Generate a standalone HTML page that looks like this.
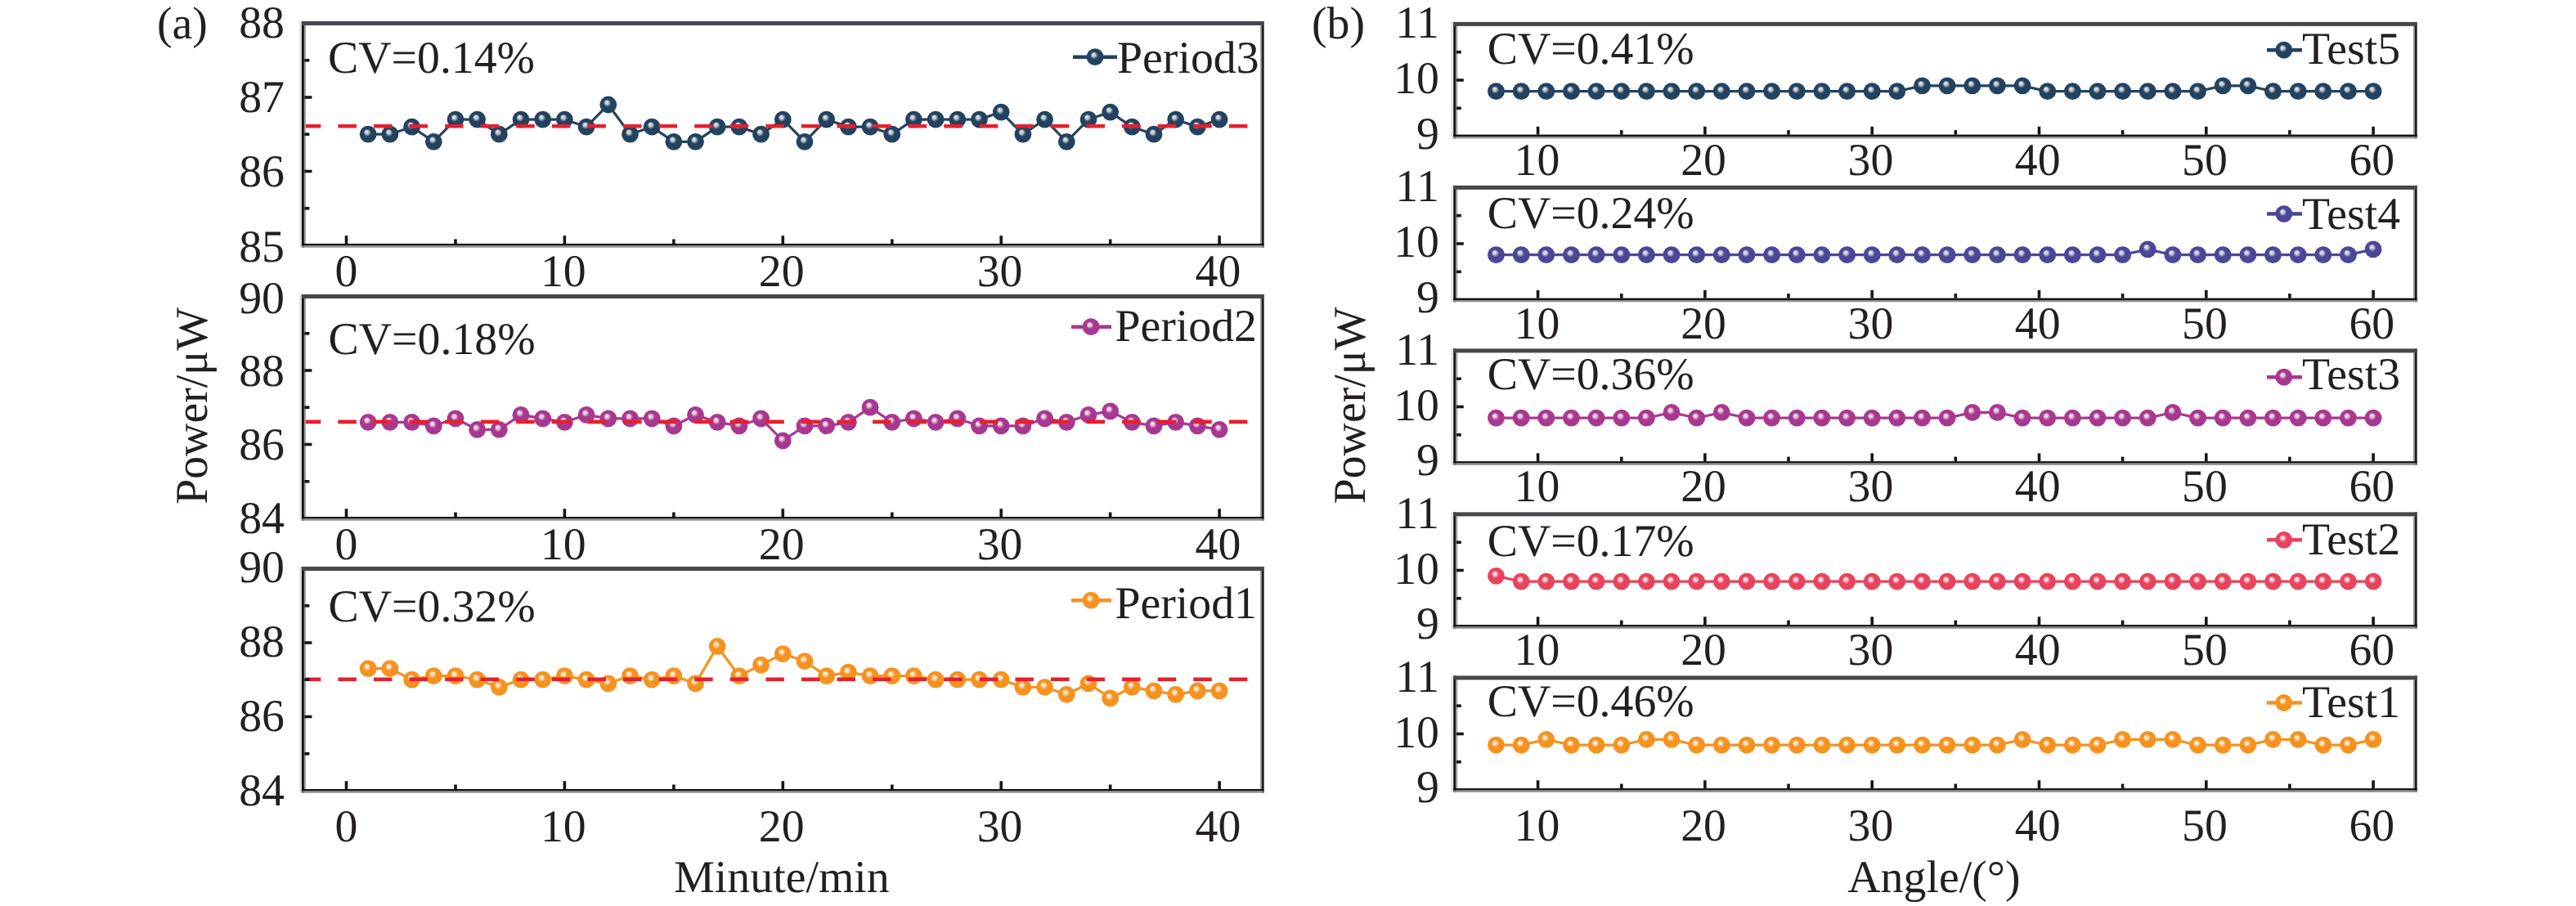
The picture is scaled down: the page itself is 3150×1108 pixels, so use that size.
<!DOCTYPE html>
<html><head><meta charset="utf-8"><style>
html,body{margin:0;padding:0;background:#fff;}
svg{display:block;}
text{font-family:"Liberation Serif", serif;fill:#231f20;text-rendering:geometricPrecision;}
</style></head><body>
<svg width="3150" height="1108" viewBox="0 0 3150 1108">
<defs><radialGradient id="g_navy" cx="0.5" cy="0.5" r="0.5" fx="0.4" fy="0.34"><stop offset="0" stop-color="#e9ecef"/><stop offset="0.2" stop-color="#c1cad2"/><stop offset="0.45" stop-color="#23425f"/><stop offset="1" stop-color="#23425f"/></radialGradient><radialGradient id="g_indigo" cx="0.5" cy="0.5" r="0.5" fx="0.4" fy="0.34"><stop offset="0" stop-color="#ececf4"/><stop offset="0.2" stop-color="#cccbe1"/><stop offset="0.45" stop-color="#4a4796"/><stop offset="1" stop-color="#4a4796"/></radialGradient><radialGradient id="g_magenta" cx="0.5" cy="0.5" r="0.5" fx="0.4" fy="0.34"><stop offset="0" stop-color="#f6ebf3"/><stop offset="0.2" stop-color="#e6c7df"/><stop offset="0.45" stop-color="#a8388f"/><stop offset="1" stop-color="#a8388f"/></radialGradient><radialGradient id="g_pink" cx="0.5" cy="0.5" r="0.5" fx="0.4" fy="0.34"><stop offset="0" stop-color="#fcecee"/><stop offset="0.2" stop-color="#f8cad1"/><stop offset="0.45" stop-color="#e8435d"/><stop offset="1" stop-color="#e8435d"/></radialGradient><radialGradient id="g_orange" cx="0.5" cy="0.5" r="0.5" fx="0.4" fy="0.34"><stop offset="0" stop-color="#fef4e8"/><stop offset="0.2" stop-color="#fce0c0"/><stop offset="0.45" stop-color="#f59220"/><stop offset="1" stop-color="#f59220"/></radialGradient></defs>
<rect width="3150" height="1108" fill="#fff"/>
<polyline points="450.2,164.2 476.9,164.2 503.6,155.2 530.3,173.3 557.0,146.1 583.6,146.1 610.3,164.2 637.0,146.1 663.7,146.1 690.4,146.1 717.1,155.2 743.8,128.0 770.5,164.2 797.2,155.2 823.9,173.3 850.5,173.3 877.2,155.2 903.9,155.2 930.6,164.2 957.3,146.1 984.0,173.3 1010.7,146.1 1037.4,155.2 1064.1,155.2 1090.8,164.2 1117.4,146.1 1144.1,146.1 1170.8,146.1 1197.5,146.1 1224.2,137.1 1250.9,164.2 1277.6,146.1 1304.3,173.3 1331.0,146.1 1357.7,137.1 1384.3,155.2 1411.0,164.2 1437.7,146.1 1464.4,155.2 1491.1,146.1" fill="none" stroke="#23425f" stroke-width="3.2"/>
<circle cx="450.2" cy="164.2" r="10.4" fill="url(#g_navy)"/>
<circle cx="476.9" cy="164.2" r="10.4" fill="url(#g_navy)"/>
<circle cx="503.6" cy="155.2" r="10.4" fill="url(#g_navy)"/>
<circle cx="530.3" cy="173.3" r="10.4" fill="url(#g_navy)"/>
<circle cx="557.0" cy="146.1" r="10.4" fill="url(#g_navy)"/>
<circle cx="583.6" cy="146.1" r="10.4" fill="url(#g_navy)"/>
<circle cx="610.3" cy="164.2" r="10.4" fill="url(#g_navy)"/>
<circle cx="637.0" cy="146.1" r="10.4" fill="url(#g_navy)"/>
<circle cx="663.7" cy="146.1" r="10.4" fill="url(#g_navy)"/>
<circle cx="690.4" cy="146.1" r="10.4" fill="url(#g_navy)"/>
<circle cx="717.1" cy="155.2" r="10.4" fill="url(#g_navy)"/>
<circle cx="743.8" cy="128.0" r="10.4" fill="url(#g_navy)"/>
<circle cx="770.5" cy="164.2" r="10.4" fill="url(#g_navy)"/>
<circle cx="797.2" cy="155.2" r="10.4" fill="url(#g_navy)"/>
<circle cx="823.9" cy="173.3" r="10.4" fill="url(#g_navy)"/>
<circle cx="850.5" cy="173.3" r="10.4" fill="url(#g_navy)"/>
<circle cx="877.2" cy="155.2" r="10.4" fill="url(#g_navy)"/>
<circle cx="903.9" cy="155.2" r="10.4" fill="url(#g_navy)"/>
<circle cx="930.6" cy="164.2" r="10.4" fill="url(#g_navy)"/>
<circle cx="957.3" cy="146.1" r="10.4" fill="url(#g_navy)"/>
<circle cx="984.0" cy="173.3" r="10.4" fill="url(#g_navy)"/>
<circle cx="1010.7" cy="146.1" r="10.4" fill="url(#g_navy)"/>
<circle cx="1037.4" cy="155.2" r="10.4" fill="url(#g_navy)"/>
<circle cx="1064.1" cy="155.2" r="10.4" fill="url(#g_navy)"/>
<circle cx="1090.8" cy="164.2" r="10.4" fill="url(#g_navy)"/>
<circle cx="1117.4" cy="146.1" r="10.4" fill="url(#g_navy)"/>
<circle cx="1144.1" cy="146.1" r="10.4" fill="url(#g_navy)"/>
<circle cx="1170.8" cy="146.1" r="10.4" fill="url(#g_navy)"/>
<circle cx="1197.5" cy="146.1" r="10.4" fill="url(#g_navy)"/>
<circle cx="1224.2" cy="137.1" r="10.4" fill="url(#g_navy)"/>
<circle cx="1250.9" cy="164.2" r="10.4" fill="url(#g_navy)"/>
<circle cx="1277.6" cy="146.1" r="10.4" fill="url(#g_navy)"/>
<circle cx="1304.3" cy="173.3" r="10.4" fill="url(#g_navy)"/>
<circle cx="1331.0" cy="146.1" r="10.4" fill="url(#g_navy)"/>
<circle cx="1357.7" cy="137.1" r="10.4" fill="url(#g_navy)"/>
<circle cx="1384.3" cy="155.2" r="10.4" fill="url(#g_navy)"/>
<circle cx="1411.0" cy="164.2" r="10.4" fill="url(#g_navy)"/>
<circle cx="1437.7" cy="146.1" r="10.4" fill="url(#g_navy)"/>
<circle cx="1464.4" cy="155.2" r="10.4" fill="url(#g_navy)"/>
<circle cx="1491.1" cy="146.1" r="10.4" fill="url(#g_navy)"/>
<line x1="371.4" y1="154.2" x2="1541.5" y2="154.2" stroke="#e5202e" stroke-width="4.6" stroke-dasharray="22.5 21.08" stroke-dashoffset="1.6"/>
<rect x="365.9" y="26.0" width="3.0" height="276.7" fill="#e4e4e4"/>
<rect x="368.9" y="26.0" width="3.0" height="276.7" fill="#121212"/>
<rect x="371.9" y="31.0" width="2.0" height="267.0" fill="#9c9c9c"/>
<rect x="1541.2" y="31.0" width="1.9" height="267.0" fill="#8c8c8c"/>
<rect x="1543.1" y="26.0" width="2.5" height="276.7" fill="#121212"/>
<rect x="368.9" y="298.0" width="1176.7" height="2.5" fill="#121212"/>
<rect x="368.9" y="300.5" width="1176.7" height="2.2" fill="#8c8c8c"/>
<rect x="368.9" y="26.0" width="1176.7" height="5.0" fill="#46464b"/>
<line x1="423.5" y1="298" x2="423.5" y2="288.2" stroke="#161616" stroke-width="3.6"/>
<text x="423.5" y="349.5" text-anchor="middle" font-size="55.8" >0</text>
<line x1="557.0" y1="298" x2="557.0" y2="292.5" stroke="#161616" stroke-width="3.6"/>
<line x1="690.4" y1="298" x2="690.4" y2="288.2" stroke="#161616" stroke-width="3.6"/>
<text x="688.8" y="349.5" text-anchor="middle" font-size="55.8" >10</text>
<line x1="823.9" y1="298" x2="823.9" y2="292.5" stroke="#161616" stroke-width="3.6"/>
<line x1="957.3" y1="298" x2="957.3" y2="288.2" stroke="#161616" stroke-width="3.6"/>
<text x="955.7" y="349.5" text-anchor="middle" font-size="55.8" >20</text>
<line x1="1090.8" y1="298" x2="1090.8" y2="292.5" stroke="#161616" stroke-width="3.6"/>
<line x1="1224.2" y1="298" x2="1224.2" y2="288.2" stroke="#161616" stroke-width="3.6"/>
<text x="1222.6" y="349.5" text-anchor="middle" font-size="55.8" >30</text>
<line x1="1357.7" y1="298" x2="1357.7" y2="292.5" stroke="#161616" stroke-width="3.6"/>
<line x1="1491.1" y1="298" x2="1491.1" y2="288.2" stroke="#161616" stroke-width="3.6"/>
<text x="1489.5" y="349.5" text-anchor="middle" font-size="55.8" >40</text>
<text x="348" y="319.8" text-anchor="end" font-size="55.8" >85</text>
<line x1="372.4" y1="209.5" x2="381.4" y2="209.5" stroke="#161616" stroke-width="3.6"/>
<text x="348" y="228.1" text-anchor="end" font-size="55.8" >86</text>
<line x1="372.4" y1="119.0" x2="381.4" y2="119.0" stroke="#161616" stroke-width="3.6"/>
<text x="348" y="137.1" text-anchor="end" font-size="55.8" >87</text>
<text x="348" y="46.0" text-anchor="end" font-size="55.8" >88</text>
<line x1="372.4" y1="254.8" x2="378.4" y2="254.8" stroke="#161616" stroke-width="3.6"/>
<line x1="372.4" y1="164.2" x2="378.4" y2="164.2" stroke="#161616" stroke-width="3.6"/>
<line x1="372.4" y1="73.8" x2="378.4" y2="73.8" stroke="#161616" stroke-width="3.6"/>
<text x="401" y="89" text-anchor="start" font-size="55.8" >CV=0.14%</text>
<line x1="1312" y1="69.7" x2="1366" y2="69.7" stroke="#23425f" stroke-width="4.5"/>
<circle cx="1339.1" cy="69.7" r="10.4" fill="url(#g_navy)"/>
<text x="1366" y="88.5" text-anchor="start" font-size="55.8" >Period3</text>
<polyline points="450.2,516.4 476.9,516.4 503.6,516.4 530.3,520.9 557.0,511.8 583.6,525.4 610.3,525.4 637.0,507.3 663.7,511.8 690.4,516.4 717.1,507.3 743.8,511.8 770.5,511.8 797.2,511.8 823.9,520.9 850.5,507.3 877.2,516.4 903.9,520.9 930.6,511.8 957.3,539.0 984.0,520.9 1010.7,520.9 1037.4,516.4 1064.1,498.2 1090.8,516.4 1117.4,511.8 1144.1,516.4 1170.8,511.8 1197.5,520.9 1224.2,520.9 1250.9,520.9 1277.6,511.8 1304.3,516.4 1331.0,507.3 1357.7,502.8 1384.3,516.4 1411.0,520.9 1437.7,516.4 1464.4,520.9 1491.1,525.4" fill="none" stroke="#a8388f" stroke-width="3.2"/>
<circle cx="450.2" cy="516.4" r="10.4" fill="url(#g_magenta)"/>
<circle cx="476.9" cy="516.4" r="10.4" fill="url(#g_magenta)"/>
<circle cx="503.6" cy="516.4" r="10.4" fill="url(#g_magenta)"/>
<circle cx="530.3" cy="520.9" r="10.4" fill="url(#g_magenta)"/>
<circle cx="557.0" cy="511.8" r="10.4" fill="url(#g_magenta)"/>
<circle cx="583.6" cy="525.4" r="10.4" fill="url(#g_magenta)"/>
<circle cx="610.3" cy="525.4" r="10.4" fill="url(#g_magenta)"/>
<circle cx="637.0" cy="507.3" r="10.4" fill="url(#g_magenta)"/>
<circle cx="663.7" cy="511.8" r="10.4" fill="url(#g_magenta)"/>
<circle cx="690.4" cy="516.4" r="10.4" fill="url(#g_magenta)"/>
<circle cx="717.1" cy="507.3" r="10.4" fill="url(#g_magenta)"/>
<circle cx="743.8" cy="511.8" r="10.4" fill="url(#g_magenta)"/>
<circle cx="770.5" cy="511.8" r="10.4" fill="url(#g_magenta)"/>
<circle cx="797.2" cy="511.8" r="10.4" fill="url(#g_magenta)"/>
<circle cx="823.9" cy="520.9" r="10.4" fill="url(#g_magenta)"/>
<circle cx="850.5" cy="507.3" r="10.4" fill="url(#g_magenta)"/>
<circle cx="877.2" cy="516.4" r="10.4" fill="url(#g_magenta)"/>
<circle cx="903.9" cy="520.9" r="10.4" fill="url(#g_magenta)"/>
<circle cx="930.6" cy="511.8" r="10.4" fill="url(#g_magenta)"/>
<circle cx="957.3" cy="539.0" r="10.4" fill="url(#g_magenta)"/>
<circle cx="984.0" cy="520.9" r="10.4" fill="url(#g_magenta)"/>
<circle cx="1010.7" cy="520.9" r="10.4" fill="url(#g_magenta)"/>
<circle cx="1037.4" cy="516.4" r="10.4" fill="url(#g_magenta)"/>
<circle cx="1064.1" cy="498.2" r="10.4" fill="url(#g_magenta)"/>
<circle cx="1090.8" cy="516.4" r="10.4" fill="url(#g_magenta)"/>
<circle cx="1117.4" cy="511.8" r="10.4" fill="url(#g_magenta)"/>
<circle cx="1144.1" cy="516.4" r="10.4" fill="url(#g_magenta)"/>
<circle cx="1170.8" cy="511.8" r="10.4" fill="url(#g_magenta)"/>
<circle cx="1197.5" cy="520.9" r="10.4" fill="url(#g_magenta)"/>
<circle cx="1224.2" cy="520.9" r="10.4" fill="url(#g_magenta)"/>
<circle cx="1250.9" cy="520.9" r="10.4" fill="url(#g_magenta)"/>
<circle cx="1277.6" cy="511.8" r="10.4" fill="url(#g_magenta)"/>
<circle cx="1304.3" cy="516.4" r="10.4" fill="url(#g_magenta)"/>
<circle cx="1331.0" cy="507.3" r="10.4" fill="url(#g_magenta)"/>
<circle cx="1357.7" cy="502.8" r="10.4" fill="url(#g_magenta)"/>
<circle cx="1384.3" cy="516.4" r="10.4" fill="url(#g_magenta)"/>
<circle cx="1411.0" cy="520.9" r="10.4" fill="url(#g_magenta)"/>
<circle cx="1437.7" cy="516.4" r="10.4" fill="url(#g_magenta)"/>
<circle cx="1464.4" cy="520.9" r="10.4" fill="url(#g_magenta)"/>
<circle cx="1491.1" cy="525.4" r="10.4" fill="url(#g_magenta)"/>
<line x1="371.4" y1="515.9" x2="1541.5" y2="515.9" stroke="#e5202e" stroke-width="4.6" stroke-dasharray="22.5 21.08" stroke-dashoffset="1.6"/>
<rect x="365.9" y="360.0" width="3.0" height="276.7" fill="#e4e4e4"/>
<rect x="368.9" y="360.0" width="3.0" height="276.7" fill="#121212"/>
<rect x="371.9" y="365.0" width="2.0" height="267.0" fill="#9c9c9c"/>
<rect x="1541.2" y="365.0" width="1.9" height="267.0" fill="#8c8c8c"/>
<rect x="1543.1" y="360.0" width="2.5" height="276.7" fill="#121212"/>
<rect x="368.9" y="632.0" width="1176.7" height="2.5" fill="#121212"/>
<rect x="368.9" y="634.5" width="1176.7" height="2.2" fill="#8c8c8c"/>
<rect x="368.9" y="360.0" width="1176.7" height="5.0" fill="#46464b"/>
<line x1="423.5" y1="632" x2="423.5" y2="622.2" stroke="#161616" stroke-width="3.6"/>
<text x="423.5" y="683.5" text-anchor="middle" font-size="55.8" >0</text>
<line x1="557.0" y1="632" x2="557.0" y2="626.5" stroke="#161616" stroke-width="3.6"/>
<line x1="690.4" y1="632" x2="690.4" y2="622.2" stroke="#161616" stroke-width="3.6"/>
<text x="688.8" y="683.5" text-anchor="middle" font-size="55.8" >10</text>
<line x1="823.9" y1="632" x2="823.9" y2="626.5" stroke="#161616" stroke-width="3.6"/>
<line x1="957.3" y1="632" x2="957.3" y2="622.2" stroke="#161616" stroke-width="3.6"/>
<text x="955.7" y="683.5" text-anchor="middle" font-size="55.8" >20</text>
<line x1="1090.8" y1="632" x2="1090.8" y2="626.5" stroke="#161616" stroke-width="3.6"/>
<line x1="1224.2" y1="632" x2="1224.2" y2="622.2" stroke="#161616" stroke-width="3.6"/>
<text x="1222.6" y="683.5" text-anchor="middle" font-size="55.8" >30</text>
<line x1="1357.7" y1="632" x2="1357.7" y2="626.5" stroke="#161616" stroke-width="3.6"/>
<line x1="1491.1" y1="632" x2="1491.1" y2="622.2" stroke="#161616" stroke-width="3.6"/>
<text x="1489.5" y="683.5" text-anchor="middle" font-size="55.8" >40</text>
<text x="348" y="651.8" text-anchor="end" font-size="55.8" >84</text>
<line x1="372.4" y1="543.5" x2="381.4" y2="543.5" stroke="#161616" stroke-width="3.6"/>
<text x="348" y="561.7" text-anchor="end" font-size="55.8" >86</text>
<line x1="372.4" y1="453.0" x2="381.4" y2="453.0" stroke="#161616" stroke-width="3.6"/>
<text x="348" y="471.6" text-anchor="end" font-size="55.8" >88</text>
<text x="348" y="383.1" text-anchor="end" font-size="55.8" >90</text>
<line x1="372.4" y1="588.8" x2="378.4" y2="588.8" stroke="#161616" stroke-width="3.6"/>
<line x1="372.4" y1="498.2" x2="378.4" y2="498.2" stroke="#161616" stroke-width="3.6"/>
<line x1="372.4" y1="407.8" x2="378.4" y2="407.8" stroke="#161616" stroke-width="3.6"/>
<text x="401.6" y="433" text-anchor="start" font-size="55.8" >CV=0.18%</text>
<line x1="1310" y1="399.7" x2="1359" y2="399.7" stroke="#a8388f" stroke-width="4.5"/>
<circle cx="1334.1" cy="399.7" r="10.4" fill="url(#g_magenta)"/>
<text x="1363.4" y="416.8" text-anchor="start" font-size="55.8" >Period2</text>
<polyline points="450.2,817.7 476.9,817.7 503.6,831.2 530.3,826.7 557.0,826.7 583.6,831.2 610.3,840.3 637.0,831.2 663.7,831.2 690.4,826.7 717.1,831.2 743.8,835.8 770.5,826.7 797.2,831.2 823.9,826.7 850.5,835.8 877.2,790.5 903.9,826.7 930.6,813.1 957.3,799.6 984.0,808.6 1010.7,826.7 1037.4,822.2 1064.1,826.7 1090.8,826.7 1117.4,826.7 1144.1,831.2 1170.8,831.2 1197.5,831.2 1224.2,831.2 1250.9,840.3 1277.6,840.3 1304.3,849.4 1331.0,835.8 1357.7,853.9 1384.3,840.3 1411.0,844.8 1437.7,849.4 1464.4,844.8 1491.1,844.8" fill="none" stroke="#f59220" stroke-width="3.2"/>
<circle cx="450.2" cy="817.7" r="10.4" fill="url(#g_orange)"/>
<circle cx="476.9" cy="817.7" r="10.4" fill="url(#g_orange)"/>
<circle cx="503.6" cy="831.2" r="10.4" fill="url(#g_orange)"/>
<circle cx="530.3" cy="826.7" r="10.4" fill="url(#g_orange)"/>
<circle cx="557.0" cy="826.7" r="10.4" fill="url(#g_orange)"/>
<circle cx="583.6" cy="831.2" r="10.4" fill="url(#g_orange)"/>
<circle cx="610.3" cy="840.3" r="10.4" fill="url(#g_orange)"/>
<circle cx="637.0" cy="831.2" r="10.4" fill="url(#g_orange)"/>
<circle cx="663.7" cy="831.2" r="10.4" fill="url(#g_orange)"/>
<circle cx="690.4" cy="826.7" r="10.4" fill="url(#g_orange)"/>
<circle cx="717.1" cy="831.2" r="10.4" fill="url(#g_orange)"/>
<circle cx="743.8" cy="835.8" r="10.4" fill="url(#g_orange)"/>
<circle cx="770.5" cy="826.7" r="10.4" fill="url(#g_orange)"/>
<circle cx="797.2" cy="831.2" r="10.4" fill="url(#g_orange)"/>
<circle cx="823.9" cy="826.7" r="10.4" fill="url(#g_orange)"/>
<circle cx="850.5" cy="835.8" r="10.4" fill="url(#g_orange)"/>
<circle cx="877.2" cy="790.5" r="10.4" fill="url(#g_orange)"/>
<circle cx="903.9" cy="826.7" r="10.4" fill="url(#g_orange)"/>
<circle cx="930.6" cy="813.1" r="10.4" fill="url(#g_orange)"/>
<circle cx="957.3" cy="799.6" r="10.4" fill="url(#g_orange)"/>
<circle cx="984.0" cy="808.6" r="10.4" fill="url(#g_orange)"/>
<circle cx="1010.7" cy="826.7" r="10.4" fill="url(#g_orange)"/>
<circle cx="1037.4" cy="822.2" r="10.4" fill="url(#g_orange)"/>
<circle cx="1064.1" cy="826.7" r="10.4" fill="url(#g_orange)"/>
<circle cx="1090.8" cy="826.7" r="10.4" fill="url(#g_orange)"/>
<circle cx="1117.4" cy="826.7" r="10.4" fill="url(#g_orange)"/>
<circle cx="1144.1" cy="831.2" r="10.4" fill="url(#g_orange)"/>
<circle cx="1170.8" cy="831.2" r="10.4" fill="url(#g_orange)"/>
<circle cx="1197.5" cy="831.2" r="10.4" fill="url(#g_orange)"/>
<circle cx="1224.2" cy="831.2" r="10.4" fill="url(#g_orange)"/>
<circle cx="1250.9" cy="840.3" r="10.4" fill="url(#g_orange)"/>
<circle cx="1277.6" cy="840.3" r="10.4" fill="url(#g_orange)"/>
<circle cx="1304.3" cy="849.4" r="10.4" fill="url(#g_orange)"/>
<circle cx="1331.0" cy="835.8" r="10.4" fill="url(#g_orange)"/>
<circle cx="1357.7" cy="853.9" r="10.4" fill="url(#g_orange)"/>
<circle cx="1384.3" cy="840.3" r="10.4" fill="url(#g_orange)"/>
<circle cx="1411.0" cy="844.8" r="10.4" fill="url(#g_orange)"/>
<circle cx="1437.7" cy="849.4" r="10.4" fill="url(#g_orange)"/>
<circle cx="1464.4" cy="844.8" r="10.4" fill="url(#g_orange)"/>
<circle cx="1491.1" cy="844.8" r="10.4" fill="url(#g_orange)"/>
<line x1="371.4" y1="830.8" x2="1541.5" y2="830.8" stroke="#e5202e" stroke-width="4.6" stroke-dasharray="22.5 21.08" stroke-dashoffset="1.6"/>
<rect x="365.9" y="693.0" width="3.0" height="276.7" fill="#e4e4e4"/>
<rect x="368.9" y="693.0" width="3.0" height="276.7" fill="#121212"/>
<rect x="371.9" y="698.0" width="2.0" height="267.0" fill="#9c9c9c"/>
<rect x="1541.2" y="698.0" width="1.9" height="267.0" fill="#8c8c8c"/>
<rect x="1543.1" y="693.0" width="2.5" height="276.7" fill="#121212"/>
<rect x="368.9" y="965.0" width="1176.7" height="2.5" fill="#121212"/>
<rect x="368.9" y="967.5" width="1176.7" height="2.2" fill="#8c8c8c"/>
<rect x="368.9" y="693.0" width="1176.7" height="5.0" fill="#46464b"/>
<line x1="423.5" y1="965" x2="423.5" y2="955.2" stroke="#161616" stroke-width="3.6"/>
<text x="423.5" y="1028.5" text-anchor="middle" font-size="55.8" >0</text>
<line x1="557.0" y1="965" x2="557.0" y2="959.5" stroke="#161616" stroke-width="3.6"/>
<line x1="690.4" y1="965" x2="690.4" y2="955.2" stroke="#161616" stroke-width="3.6"/>
<text x="688.8" y="1028.5" text-anchor="middle" font-size="55.8" >10</text>
<line x1="823.9" y1="965" x2="823.9" y2="959.5" stroke="#161616" stroke-width="3.6"/>
<line x1="957.3" y1="965" x2="957.3" y2="955.2" stroke="#161616" stroke-width="3.6"/>
<text x="955.7" y="1028.5" text-anchor="middle" font-size="55.8" >20</text>
<line x1="1090.8" y1="965" x2="1090.8" y2="959.5" stroke="#161616" stroke-width="3.6"/>
<line x1="1224.2" y1="965" x2="1224.2" y2="955.2" stroke="#161616" stroke-width="3.6"/>
<text x="1222.6" y="1028.5" text-anchor="middle" font-size="55.8" >30</text>
<line x1="1357.7" y1="965" x2="1357.7" y2="959.5" stroke="#161616" stroke-width="3.6"/>
<line x1="1491.1" y1="965" x2="1491.1" y2="955.2" stroke="#161616" stroke-width="3.6"/>
<text x="1489.5" y="1028.5" text-anchor="middle" font-size="55.8" >40</text>
<text x="348" y="984.8" text-anchor="end" font-size="55.8" >84</text>
<line x1="372.4" y1="876.5" x2="381.4" y2="876.5" stroke="#161616" stroke-width="3.6"/>
<text x="348" y="893.8" text-anchor="end" font-size="55.8" >86</text>
<line x1="372.4" y1="786.0" x2="381.4" y2="786.0" stroke="#161616" stroke-width="3.6"/>
<text x="348" y="802.9" text-anchor="end" font-size="55.8" >88</text>
<text x="348" y="712.0" text-anchor="end" font-size="55.8" >90</text>
<line x1="372.4" y1="921.8" x2="378.4" y2="921.8" stroke="#161616" stroke-width="3.6"/>
<line x1="372.4" y1="831.2" x2="378.4" y2="831.2" stroke="#161616" stroke-width="3.6"/>
<line x1="372.4" y1="740.8" x2="378.4" y2="740.8" stroke="#161616" stroke-width="3.6"/>
<text x="401.6" y="760" text-anchor="start" font-size="55.8" >CV=0.32%</text>
<line x1="1310" y1="734.2" x2="1359" y2="734.2" stroke="#f59220" stroke-width="4.5"/>
<circle cx="1334.1" cy="734.2" r="10.4" fill="url(#g_orange)"/>
<text x="1363.4" y="755.7" text-anchor="start" font-size="55.8" >Period1</text>
<text x="956" y="1091" text-anchor="middle" font-size="55.8" >Minute/min</text>
<text x="0" y="0" text-anchor="middle" font-size="55.8" transform="translate(252.5,496.5) rotate(-90)">Power/μW</text>
<text x="192" y="46.5" text-anchor="start" font-size="55.8" >(a)</text>
<polyline points="1829.5,111.7 1860.2,111.7 1890.8,111.7 1921.5,111.7 1952.1,111.7 1982.8,111.7 2013.4,111.7 2044.0,111.7 2074.7,111.7 2105.3,111.7 2136.0,111.7 2166.6,111.7 2197.3,111.7 2227.9,111.7 2258.6,111.7 2289.2,111.7 2319.8,111.7 2350.5,104.9 2381.1,104.9 2411.8,104.9 2442.4,104.9 2473.1,104.9 2503.7,111.7 2534.4,111.7 2565.0,111.7 2595.6,111.7 2626.3,111.7 2656.9,111.7 2687.6,111.7 2718.2,104.9 2748.9,104.9 2779.5,111.7 2810.2,111.7 2840.8,111.7 2871.5,111.7 2902.1,111.7" fill="none" stroke="#23425f" stroke-width="3.2"/>
<circle cx="1829.5" cy="111.7" r="10.4" fill="url(#g_navy)"/>
<circle cx="1860.2" cy="111.7" r="10.4" fill="url(#g_navy)"/>
<circle cx="1890.8" cy="111.7" r="10.4" fill="url(#g_navy)"/>
<circle cx="1921.5" cy="111.7" r="10.4" fill="url(#g_navy)"/>
<circle cx="1952.1" cy="111.7" r="10.4" fill="url(#g_navy)"/>
<circle cx="1982.8" cy="111.7" r="10.4" fill="url(#g_navy)"/>
<circle cx="2013.4" cy="111.7" r="10.4" fill="url(#g_navy)"/>
<circle cx="2044.0" cy="111.7" r="10.4" fill="url(#g_navy)"/>
<circle cx="2074.7" cy="111.7" r="10.4" fill="url(#g_navy)"/>
<circle cx="2105.3" cy="111.7" r="10.4" fill="url(#g_navy)"/>
<circle cx="2136.0" cy="111.7" r="10.4" fill="url(#g_navy)"/>
<circle cx="2166.6" cy="111.7" r="10.4" fill="url(#g_navy)"/>
<circle cx="2197.3" cy="111.7" r="10.4" fill="url(#g_navy)"/>
<circle cx="2227.9" cy="111.7" r="10.4" fill="url(#g_navy)"/>
<circle cx="2258.6" cy="111.7" r="10.4" fill="url(#g_navy)"/>
<circle cx="2289.2" cy="111.7" r="10.4" fill="url(#g_navy)"/>
<circle cx="2319.8" cy="111.7" r="10.4" fill="url(#g_navy)"/>
<circle cx="2350.5" cy="104.9" r="10.4" fill="url(#g_navy)"/>
<circle cx="2381.1" cy="104.9" r="10.4" fill="url(#g_navy)"/>
<circle cx="2411.8" cy="104.9" r="10.4" fill="url(#g_navy)"/>
<circle cx="2442.4" cy="104.9" r="10.4" fill="url(#g_navy)"/>
<circle cx="2473.1" cy="104.9" r="10.4" fill="url(#g_navy)"/>
<circle cx="2503.7" cy="111.7" r="10.4" fill="url(#g_navy)"/>
<circle cx="2534.4" cy="111.7" r="10.4" fill="url(#g_navy)"/>
<circle cx="2565.0" cy="111.7" r="10.4" fill="url(#g_navy)"/>
<circle cx="2595.6" cy="111.7" r="10.4" fill="url(#g_navy)"/>
<circle cx="2626.3" cy="111.7" r="10.4" fill="url(#g_navy)"/>
<circle cx="2656.9" cy="111.7" r="10.4" fill="url(#g_navy)"/>
<circle cx="2687.6" cy="111.7" r="10.4" fill="url(#g_navy)"/>
<circle cx="2718.2" cy="104.9" r="10.4" fill="url(#g_navy)"/>
<circle cx="2748.9" cy="104.9" r="10.4" fill="url(#g_navy)"/>
<circle cx="2779.5" cy="111.7" r="10.4" fill="url(#g_navy)"/>
<circle cx="2810.2" cy="111.7" r="10.4" fill="url(#g_navy)"/>
<circle cx="2840.8" cy="111.7" r="10.4" fill="url(#g_navy)"/>
<circle cx="2871.5" cy="111.7" r="10.4" fill="url(#g_navy)"/>
<circle cx="2902.1" cy="111.7" r="10.4" fill="url(#g_navy)"/>
<rect x="1774.3" y="26.9" width="3.0" height="142.4" fill="#e4e4e4"/>
<rect x="1777.3" y="26.9" width="3.0" height="142.4" fill="#121212"/>
<rect x="1780.3" y="31.9" width="2.0" height="132.7" fill="#9c9c9c"/>
<rect x="2951.2" y="31.9" width="1.9" height="132.7" fill="#8c8c8c"/>
<rect x="2953.1" y="26.9" width="2.5" height="142.4" fill="#121212"/>
<rect x="1777.3" y="164.6" width="1178.3" height="2.5" fill="#121212"/>
<rect x="1777.3" y="167.1" width="1178.3" height="2.2" fill="#8c8c8c"/>
<rect x="1777.3" y="26.9" width="1178.3" height="5.0" fill="#46464b"/>
<line x1="1880.6" y1="164.6" x2="1880.6" y2="154.8" stroke="#161616" stroke-width="3.6"/>
<text x="1879.4" y="213.6" text-anchor="middle" font-size="55.8" >10</text>
<line x1="1982.8" y1="164.6" x2="1982.8" y2="159.1" stroke="#161616" stroke-width="3.6"/>
<line x1="2084.9" y1="164.6" x2="2084.9" y2="154.8" stroke="#161616" stroke-width="3.6"/>
<text x="2083.1" y="213.6" text-anchor="middle" font-size="55.8" >20</text>
<line x1="2187.0" y1="164.6" x2="2187.0" y2="159.1" stroke="#161616" stroke-width="3.6"/>
<line x1="2289.2" y1="164.6" x2="2289.2" y2="154.8" stroke="#161616" stroke-width="3.6"/>
<text x="2287.4" y="213.6" text-anchor="middle" font-size="55.8" >30</text>
<line x1="2391.3" y1="164.6" x2="2391.3" y2="159.1" stroke="#161616" stroke-width="3.6"/>
<line x1="2493.5" y1="164.6" x2="2493.5" y2="154.8" stroke="#161616" stroke-width="3.6"/>
<text x="2491.7" y="213.6" text-anchor="middle" font-size="55.8" >40</text>
<line x1="2595.6" y1="164.6" x2="2595.6" y2="159.1" stroke="#161616" stroke-width="3.6"/>
<line x1="2697.8" y1="164.6" x2="2697.8" y2="154.8" stroke="#161616" stroke-width="3.6"/>
<text x="2696.0" y="213.6" text-anchor="middle" font-size="55.8" >50</text>
<line x1="2799.9" y1="164.6" x2="2799.9" y2="159.1" stroke="#161616" stroke-width="3.6"/>
<line x1="2902.1" y1="164.6" x2="2902.1" y2="154.8" stroke="#161616" stroke-width="3.6"/>
<text x="2900.3" y="213.6" text-anchor="middle" font-size="55.8" >60</text>
<text x="1760" y="46.2" text-anchor="end" font-size="55.8" >11</text>
<line x1="1780.8" y1="98.0" x2="1789.8" y2="98.0" stroke="#161616" stroke-width="3.6"/>
<text x="1760" y="114.3" text-anchor="end" font-size="55.8" >10</text>
<text x="1760" y="181.9" text-anchor="end" font-size="55.8" >9</text>
<line x1="1780.8" y1="132.3" x2="1786.8" y2="132.3" stroke="#161616" stroke-width="3.6"/>
<line x1="1780.8" y1="63.7" x2="1786.8" y2="63.7" stroke="#161616" stroke-width="3.6"/>
<text x="1818.7" y="77.5" text-anchor="start" font-size="55.8" >CV=0.41%</text>
<line x1="2772" y1="61.2" x2="2815" y2="61.2" stroke="#23425f" stroke-width="4.5"/>
<circle cx="2792.8" cy="61.2" r="10.4" fill="url(#g_navy)"/>
<text x="2815" y="77.8" text-anchor="start" font-size="55.8" >Test5</text>
<polyline points="1829.5,311.7 1860.2,311.7 1890.8,311.7 1921.5,311.7 1952.1,311.7 1982.8,311.7 2013.4,311.7 2044.0,311.7 2074.7,311.7 2105.3,311.7 2136.0,311.7 2166.6,311.7 2197.3,311.7 2227.9,311.7 2258.6,311.7 2289.2,311.7 2319.8,311.7 2350.5,311.7 2381.1,311.7 2411.8,311.7 2442.4,311.7 2473.1,311.7 2503.7,311.7 2534.4,311.7 2565.0,311.7 2595.6,311.7 2626.3,304.9 2656.9,311.7 2687.6,311.7 2718.2,311.7 2748.9,311.7 2779.5,311.7 2810.2,311.7 2840.8,311.7 2871.5,311.7 2902.1,304.9" fill="none" stroke="#4a4796" stroke-width="3.2"/>
<circle cx="1829.5" cy="311.7" r="10.4" fill="url(#g_indigo)"/>
<circle cx="1860.2" cy="311.7" r="10.4" fill="url(#g_indigo)"/>
<circle cx="1890.8" cy="311.7" r="10.4" fill="url(#g_indigo)"/>
<circle cx="1921.5" cy="311.7" r="10.4" fill="url(#g_indigo)"/>
<circle cx="1952.1" cy="311.7" r="10.4" fill="url(#g_indigo)"/>
<circle cx="1982.8" cy="311.7" r="10.4" fill="url(#g_indigo)"/>
<circle cx="2013.4" cy="311.7" r="10.4" fill="url(#g_indigo)"/>
<circle cx="2044.0" cy="311.7" r="10.4" fill="url(#g_indigo)"/>
<circle cx="2074.7" cy="311.7" r="10.4" fill="url(#g_indigo)"/>
<circle cx="2105.3" cy="311.7" r="10.4" fill="url(#g_indigo)"/>
<circle cx="2136.0" cy="311.7" r="10.4" fill="url(#g_indigo)"/>
<circle cx="2166.6" cy="311.7" r="10.4" fill="url(#g_indigo)"/>
<circle cx="2197.3" cy="311.7" r="10.4" fill="url(#g_indigo)"/>
<circle cx="2227.9" cy="311.7" r="10.4" fill="url(#g_indigo)"/>
<circle cx="2258.6" cy="311.7" r="10.4" fill="url(#g_indigo)"/>
<circle cx="2289.2" cy="311.7" r="10.4" fill="url(#g_indigo)"/>
<circle cx="2319.8" cy="311.7" r="10.4" fill="url(#g_indigo)"/>
<circle cx="2350.5" cy="311.7" r="10.4" fill="url(#g_indigo)"/>
<circle cx="2381.1" cy="311.7" r="10.4" fill="url(#g_indigo)"/>
<circle cx="2411.8" cy="311.7" r="10.4" fill="url(#g_indigo)"/>
<circle cx="2442.4" cy="311.7" r="10.4" fill="url(#g_indigo)"/>
<circle cx="2473.1" cy="311.7" r="10.4" fill="url(#g_indigo)"/>
<circle cx="2503.7" cy="311.7" r="10.4" fill="url(#g_indigo)"/>
<circle cx="2534.4" cy="311.7" r="10.4" fill="url(#g_indigo)"/>
<circle cx="2565.0" cy="311.7" r="10.4" fill="url(#g_indigo)"/>
<circle cx="2595.6" cy="311.7" r="10.4" fill="url(#g_indigo)"/>
<circle cx="2626.3" cy="304.9" r="10.4" fill="url(#g_indigo)"/>
<circle cx="2656.9" cy="311.7" r="10.4" fill="url(#g_indigo)"/>
<circle cx="2687.6" cy="311.7" r="10.4" fill="url(#g_indigo)"/>
<circle cx="2718.2" cy="311.7" r="10.4" fill="url(#g_indigo)"/>
<circle cx="2748.9" cy="311.7" r="10.4" fill="url(#g_indigo)"/>
<circle cx="2779.5" cy="311.7" r="10.4" fill="url(#g_indigo)"/>
<circle cx="2810.2" cy="311.7" r="10.4" fill="url(#g_indigo)"/>
<circle cx="2840.8" cy="311.7" r="10.4" fill="url(#g_indigo)"/>
<circle cx="2871.5" cy="311.7" r="10.4" fill="url(#g_indigo)"/>
<circle cx="2902.1" cy="304.9" r="10.4" fill="url(#g_indigo)"/>
<rect x="1774.3" y="226.9" width="3.0" height="142.4" fill="#e4e4e4"/>
<rect x="1777.3" y="226.9" width="3.0" height="142.4" fill="#121212"/>
<rect x="1780.3" y="231.9" width="2.0" height="132.7" fill="#9c9c9c"/>
<rect x="2951.2" y="231.9" width="1.9" height="132.7" fill="#8c8c8c"/>
<rect x="2953.1" y="226.9" width="2.5" height="142.4" fill="#121212"/>
<rect x="1777.3" y="364.6" width="1178.3" height="2.5" fill="#121212"/>
<rect x="1777.3" y="367.1" width="1178.3" height="2.2" fill="#8c8c8c"/>
<rect x="1777.3" y="226.9" width="1178.3" height="5.0" fill="#46464b"/>
<line x1="1880.6" y1="364.6" x2="1880.6" y2="354.8" stroke="#161616" stroke-width="3.6"/>
<text x="1879.4" y="413.6" text-anchor="middle" font-size="55.8" >10</text>
<line x1="1982.8" y1="364.6" x2="1982.8" y2="359.1" stroke="#161616" stroke-width="3.6"/>
<line x1="2084.9" y1="364.6" x2="2084.9" y2="354.8" stroke="#161616" stroke-width="3.6"/>
<text x="2083.1" y="413.6" text-anchor="middle" font-size="55.8" >20</text>
<line x1="2187.0" y1="364.6" x2="2187.0" y2="359.1" stroke="#161616" stroke-width="3.6"/>
<line x1="2289.2" y1="364.6" x2="2289.2" y2="354.8" stroke="#161616" stroke-width="3.6"/>
<text x="2287.4" y="413.6" text-anchor="middle" font-size="55.8" >30</text>
<line x1="2391.3" y1="364.6" x2="2391.3" y2="359.1" stroke="#161616" stroke-width="3.6"/>
<line x1="2493.5" y1="364.6" x2="2493.5" y2="354.8" stroke="#161616" stroke-width="3.6"/>
<text x="2491.7" y="413.6" text-anchor="middle" font-size="55.8" >40</text>
<line x1="2595.6" y1="364.6" x2="2595.6" y2="359.1" stroke="#161616" stroke-width="3.6"/>
<line x1="2697.8" y1="364.6" x2="2697.8" y2="354.8" stroke="#161616" stroke-width="3.6"/>
<text x="2696.0" y="413.6" text-anchor="middle" font-size="55.8" >50</text>
<line x1="2799.9" y1="364.6" x2="2799.9" y2="359.1" stroke="#161616" stroke-width="3.6"/>
<line x1="2902.1" y1="364.6" x2="2902.1" y2="354.8" stroke="#161616" stroke-width="3.6"/>
<text x="2900.3" y="413.6" text-anchor="middle" font-size="55.8" >60</text>
<text x="1760" y="246.2" text-anchor="end" font-size="55.8" >11</text>
<line x1="1780.8" y1="298.0" x2="1789.8" y2="298.0" stroke="#161616" stroke-width="3.6"/>
<text x="1760" y="314.3" text-anchor="end" font-size="55.8" >10</text>
<text x="1760" y="381.9" text-anchor="end" font-size="55.8" >9</text>
<line x1="1780.8" y1="332.3" x2="1786.8" y2="332.3" stroke="#161616" stroke-width="3.6"/>
<line x1="1780.8" y1="263.7" x2="1786.8" y2="263.7" stroke="#161616" stroke-width="3.6"/>
<text x="1818.7" y="279.2" text-anchor="start" font-size="55.8" >CV=0.24%</text>
<line x1="2772" y1="261.6" x2="2815" y2="261.6" stroke="#4a4796" stroke-width="4.5"/>
<circle cx="2792.8" cy="261.6" r="10.4" fill="url(#g_indigo)"/>
<text x="2815" y="280.0" text-anchor="start" font-size="55.8" >Test4</text>
<polyline points="1829.5,511.2 1860.2,511.2 1890.8,511.2 1921.5,511.2 1952.1,511.2 1982.8,511.2 2013.4,511.2 2044.0,504.4 2074.7,511.2 2105.3,504.4 2136.0,511.2 2166.6,511.2 2197.3,511.2 2227.9,511.2 2258.6,511.2 2289.2,511.2 2319.8,511.2 2350.5,511.2 2381.1,511.2 2411.8,504.4 2442.4,504.4 2473.1,511.2 2503.7,511.2 2534.4,511.2 2565.0,511.2 2595.6,511.2 2626.3,511.2 2656.9,504.4 2687.6,511.2 2718.2,511.2 2748.9,511.2 2779.5,511.2 2810.2,511.2 2840.8,511.2 2871.5,511.2 2902.1,511.2" fill="none" stroke="#a8388f" stroke-width="3.2"/>
<circle cx="1829.5" cy="511.2" r="10.4" fill="url(#g_magenta)"/>
<circle cx="1860.2" cy="511.2" r="10.4" fill="url(#g_magenta)"/>
<circle cx="1890.8" cy="511.2" r="10.4" fill="url(#g_magenta)"/>
<circle cx="1921.5" cy="511.2" r="10.4" fill="url(#g_magenta)"/>
<circle cx="1952.1" cy="511.2" r="10.4" fill="url(#g_magenta)"/>
<circle cx="1982.8" cy="511.2" r="10.4" fill="url(#g_magenta)"/>
<circle cx="2013.4" cy="511.2" r="10.4" fill="url(#g_magenta)"/>
<circle cx="2044.0" cy="504.4" r="10.4" fill="url(#g_magenta)"/>
<circle cx="2074.7" cy="511.2" r="10.4" fill="url(#g_magenta)"/>
<circle cx="2105.3" cy="504.4" r="10.4" fill="url(#g_magenta)"/>
<circle cx="2136.0" cy="511.2" r="10.4" fill="url(#g_magenta)"/>
<circle cx="2166.6" cy="511.2" r="10.4" fill="url(#g_magenta)"/>
<circle cx="2197.3" cy="511.2" r="10.4" fill="url(#g_magenta)"/>
<circle cx="2227.9" cy="511.2" r="10.4" fill="url(#g_magenta)"/>
<circle cx="2258.6" cy="511.2" r="10.4" fill="url(#g_magenta)"/>
<circle cx="2289.2" cy="511.2" r="10.4" fill="url(#g_magenta)"/>
<circle cx="2319.8" cy="511.2" r="10.4" fill="url(#g_magenta)"/>
<circle cx="2350.5" cy="511.2" r="10.4" fill="url(#g_magenta)"/>
<circle cx="2381.1" cy="511.2" r="10.4" fill="url(#g_magenta)"/>
<circle cx="2411.8" cy="504.4" r="10.4" fill="url(#g_magenta)"/>
<circle cx="2442.4" cy="504.4" r="10.4" fill="url(#g_magenta)"/>
<circle cx="2473.1" cy="511.2" r="10.4" fill="url(#g_magenta)"/>
<circle cx="2503.7" cy="511.2" r="10.4" fill="url(#g_magenta)"/>
<circle cx="2534.4" cy="511.2" r="10.4" fill="url(#g_magenta)"/>
<circle cx="2565.0" cy="511.2" r="10.4" fill="url(#g_magenta)"/>
<circle cx="2595.6" cy="511.2" r="10.4" fill="url(#g_magenta)"/>
<circle cx="2626.3" cy="511.2" r="10.4" fill="url(#g_magenta)"/>
<circle cx="2656.9" cy="504.4" r="10.4" fill="url(#g_magenta)"/>
<circle cx="2687.6" cy="511.2" r="10.4" fill="url(#g_magenta)"/>
<circle cx="2718.2" cy="511.2" r="10.4" fill="url(#g_magenta)"/>
<circle cx="2748.9" cy="511.2" r="10.4" fill="url(#g_magenta)"/>
<circle cx="2779.5" cy="511.2" r="10.4" fill="url(#g_magenta)"/>
<circle cx="2810.2" cy="511.2" r="10.4" fill="url(#g_magenta)"/>
<circle cx="2840.8" cy="511.2" r="10.4" fill="url(#g_magenta)"/>
<circle cx="2871.5" cy="511.2" r="10.4" fill="url(#g_magenta)"/>
<circle cx="2902.1" cy="511.2" r="10.4" fill="url(#g_magenta)"/>
<rect x="1774.3" y="426.4" width="3.0" height="142.4" fill="#e4e4e4"/>
<rect x="1777.3" y="426.4" width="3.0" height="142.4" fill="#121212"/>
<rect x="1780.3" y="431.4" width="2.0" height="132.7" fill="#9c9c9c"/>
<rect x="2951.2" y="431.4" width="1.9" height="132.7" fill="#8c8c8c"/>
<rect x="2953.1" y="426.4" width="2.5" height="142.4" fill="#121212"/>
<rect x="1777.3" y="564.1" width="1178.3" height="2.5" fill="#121212"/>
<rect x="1777.3" y="566.6" width="1178.3" height="2.2" fill="#8c8c8c"/>
<rect x="1777.3" y="426.4" width="1178.3" height="5.0" fill="#46464b"/>
<line x1="1880.6" y1="564.1" x2="1880.6" y2="554.3" stroke="#161616" stroke-width="3.6"/>
<text x="1879.4" y="613.1" text-anchor="middle" font-size="55.8" >10</text>
<line x1="1982.8" y1="564.1" x2="1982.8" y2="558.6" stroke="#161616" stroke-width="3.6"/>
<line x1="2084.9" y1="564.1" x2="2084.9" y2="554.3" stroke="#161616" stroke-width="3.6"/>
<text x="2083.1" y="613.1" text-anchor="middle" font-size="55.8" >20</text>
<line x1="2187.0" y1="564.1" x2="2187.0" y2="558.6" stroke="#161616" stroke-width="3.6"/>
<line x1="2289.2" y1="564.1" x2="2289.2" y2="554.3" stroke="#161616" stroke-width="3.6"/>
<text x="2287.4" y="613.1" text-anchor="middle" font-size="55.8" >30</text>
<line x1="2391.3" y1="564.1" x2="2391.3" y2="558.6" stroke="#161616" stroke-width="3.6"/>
<line x1="2493.5" y1="564.1" x2="2493.5" y2="554.3" stroke="#161616" stroke-width="3.6"/>
<text x="2491.7" y="613.1" text-anchor="middle" font-size="55.8" >40</text>
<line x1="2595.6" y1="564.1" x2="2595.6" y2="558.6" stroke="#161616" stroke-width="3.6"/>
<line x1="2697.8" y1="564.1" x2="2697.8" y2="554.3" stroke="#161616" stroke-width="3.6"/>
<text x="2696.0" y="613.1" text-anchor="middle" font-size="55.8" >50</text>
<line x1="2799.9" y1="564.1" x2="2799.9" y2="558.6" stroke="#161616" stroke-width="3.6"/>
<line x1="2902.1" y1="564.1" x2="2902.1" y2="554.3" stroke="#161616" stroke-width="3.6"/>
<text x="2900.3" y="613.1" text-anchor="middle" font-size="55.8" >60</text>
<text x="1760" y="445.7" text-anchor="end" font-size="55.8" >11</text>
<line x1="1780.8" y1="497.5" x2="1789.8" y2="497.5" stroke="#161616" stroke-width="3.6"/>
<text x="1760" y="513.8" text-anchor="end" font-size="55.8" >10</text>
<text x="1760" y="581.4" text-anchor="end" font-size="55.8" >9</text>
<line x1="1780.8" y1="531.8" x2="1786.8" y2="531.8" stroke="#161616" stroke-width="3.6"/>
<line x1="1780.8" y1="463.2" x2="1786.8" y2="463.2" stroke="#161616" stroke-width="3.6"/>
<text x="1818.7" y="475.7" text-anchor="start" font-size="55.8" >CV=0.36%</text>
<line x1="2772" y1="461.2" x2="2815" y2="461.2" stroke="#a8388f" stroke-width="4.5"/>
<circle cx="2792.8" cy="461.2" r="10.4" fill="url(#g_magenta)"/>
<text x="2815" y="476.1" text-anchor="start" font-size="55.8" >Test3</text>
<polyline points="1829.5,704.4 1860.2,711.2 1890.8,711.2 1921.5,711.2 1952.1,711.2 1982.8,711.2 2013.4,711.2 2044.0,711.2 2074.7,711.2 2105.3,711.2 2136.0,711.2 2166.6,711.2 2197.3,711.2 2227.9,711.2 2258.6,711.2 2289.2,711.2 2319.8,711.2 2350.5,711.2 2381.1,711.2 2411.8,711.2 2442.4,711.2 2473.1,711.2 2503.7,711.2 2534.4,711.2 2565.0,711.2 2595.6,711.2 2626.3,711.2 2656.9,711.2 2687.6,711.2 2718.2,711.2 2748.9,711.2 2779.5,711.2 2810.2,711.2 2840.8,711.2 2871.5,711.2 2902.1,711.2" fill="none" stroke="#e8435d" stroke-width="3.2"/>
<circle cx="1829.5" cy="704.4" r="10.4" fill="url(#g_pink)"/>
<circle cx="1860.2" cy="711.2" r="10.4" fill="url(#g_pink)"/>
<circle cx="1890.8" cy="711.2" r="10.4" fill="url(#g_pink)"/>
<circle cx="1921.5" cy="711.2" r="10.4" fill="url(#g_pink)"/>
<circle cx="1952.1" cy="711.2" r="10.4" fill="url(#g_pink)"/>
<circle cx="1982.8" cy="711.2" r="10.4" fill="url(#g_pink)"/>
<circle cx="2013.4" cy="711.2" r="10.4" fill="url(#g_pink)"/>
<circle cx="2044.0" cy="711.2" r="10.4" fill="url(#g_pink)"/>
<circle cx="2074.7" cy="711.2" r="10.4" fill="url(#g_pink)"/>
<circle cx="2105.3" cy="711.2" r="10.4" fill="url(#g_pink)"/>
<circle cx="2136.0" cy="711.2" r="10.4" fill="url(#g_pink)"/>
<circle cx="2166.6" cy="711.2" r="10.4" fill="url(#g_pink)"/>
<circle cx="2197.3" cy="711.2" r="10.4" fill="url(#g_pink)"/>
<circle cx="2227.9" cy="711.2" r="10.4" fill="url(#g_pink)"/>
<circle cx="2258.6" cy="711.2" r="10.4" fill="url(#g_pink)"/>
<circle cx="2289.2" cy="711.2" r="10.4" fill="url(#g_pink)"/>
<circle cx="2319.8" cy="711.2" r="10.4" fill="url(#g_pink)"/>
<circle cx="2350.5" cy="711.2" r="10.4" fill="url(#g_pink)"/>
<circle cx="2381.1" cy="711.2" r="10.4" fill="url(#g_pink)"/>
<circle cx="2411.8" cy="711.2" r="10.4" fill="url(#g_pink)"/>
<circle cx="2442.4" cy="711.2" r="10.4" fill="url(#g_pink)"/>
<circle cx="2473.1" cy="711.2" r="10.4" fill="url(#g_pink)"/>
<circle cx="2503.7" cy="711.2" r="10.4" fill="url(#g_pink)"/>
<circle cx="2534.4" cy="711.2" r="10.4" fill="url(#g_pink)"/>
<circle cx="2565.0" cy="711.2" r="10.4" fill="url(#g_pink)"/>
<circle cx="2595.6" cy="711.2" r="10.4" fill="url(#g_pink)"/>
<circle cx="2626.3" cy="711.2" r="10.4" fill="url(#g_pink)"/>
<circle cx="2656.9" cy="711.2" r="10.4" fill="url(#g_pink)"/>
<circle cx="2687.6" cy="711.2" r="10.4" fill="url(#g_pink)"/>
<circle cx="2718.2" cy="711.2" r="10.4" fill="url(#g_pink)"/>
<circle cx="2748.9" cy="711.2" r="10.4" fill="url(#g_pink)"/>
<circle cx="2779.5" cy="711.2" r="10.4" fill="url(#g_pink)"/>
<circle cx="2810.2" cy="711.2" r="10.4" fill="url(#g_pink)"/>
<circle cx="2840.8" cy="711.2" r="10.4" fill="url(#g_pink)"/>
<circle cx="2871.5" cy="711.2" r="10.4" fill="url(#g_pink)"/>
<circle cx="2902.1" cy="711.2" r="10.4" fill="url(#g_pink)"/>
<rect x="1774.3" y="626.4" width="3.0" height="142.4" fill="#e4e4e4"/>
<rect x="1777.3" y="626.4" width="3.0" height="142.4" fill="#121212"/>
<rect x="1780.3" y="631.4" width="2.0" height="132.7" fill="#9c9c9c"/>
<rect x="2951.2" y="631.4" width="1.9" height="132.7" fill="#8c8c8c"/>
<rect x="2953.1" y="626.4" width="2.5" height="142.4" fill="#121212"/>
<rect x="1777.3" y="764.1" width="1178.3" height="2.5" fill="#121212"/>
<rect x="1777.3" y="766.6" width="1178.3" height="2.2" fill="#8c8c8c"/>
<rect x="1777.3" y="626.4" width="1178.3" height="5.0" fill="#46464b"/>
<line x1="1880.6" y1="764.1" x2="1880.6" y2="754.3" stroke="#161616" stroke-width="3.6"/>
<text x="1879.4" y="813.1" text-anchor="middle" font-size="55.8" >10</text>
<line x1="1982.8" y1="764.1" x2="1982.8" y2="758.6" stroke="#161616" stroke-width="3.6"/>
<line x1="2084.9" y1="764.1" x2="2084.9" y2="754.3" stroke="#161616" stroke-width="3.6"/>
<text x="2083.1" y="813.1" text-anchor="middle" font-size="55.8" >20</text>
<line x1="2187.0" y1="764.1" x2="2187.0" y2="758.6" stroke="#161616" stroke-width="3.6"/>
<line x1="2289.2" y1="764.1" x2="2289.2" y2="754.3" stroke="#161616" stroke-width="3.6"/>
<text x="2287.4" y="813.1" text-anchor="middle" font-size="55.8" >30</text>
<line x1="2391.3" y1="764.1" x2="2391.3" y2="758.6" stroke="#161616" stroke-width="3.6"/>
<line x1="2493.5" y1="764.1" x2="2493.5" y2="754.3" stroke="#161616" stroke-width="3.6"/>
<text x="2491.7" y="813.1" text-anchor="middle" font-size="55.8" >40</text>
<line x1="2595.6" y1="764.1" x2="2595.6" y2="758.6" stroke="#161616" stroke-width="3.6"/>
<line x1="2697.8" y1="764.1" x2="2697.8" y2="754.3" stroke="#161616" stroke-width="3.6"/>
<text x="2696.0" y="813.1" text-anchor="middle" font-size="55.8" >50</text>
<line x1="2799.9" y1="764.1" x2="2799.9" y2="758.6" stroke="#161616" stroke-width="3.6"/>
<line x1="2902.1" y1="764.1" x2="2902.1" y2="754.3" stroke="#161616" stroke-width="3.6"/>
<text x="2900.3" y="813.1" text-anchor="middle" font-size="55.8" >60</text>
<text x="1760" y="645.7" text-anchor="end" font-size="55.8" >11</text>
<line x1="1780.8" y1="697.5" x2="1789.8" y2="697.5" stroke="#161616" stroke-width="3.6"/>
<text x="1760" y="713.8" text-anchor="end" font-size="55.8" >10</text>
<text x="1760" y="781.4" text-anchor="end" font-size="55.8" >9</text>
<line x1="1780.8" y1="731.8" x2="1786.8" y2="731.8" stroke="#161616" stroke-width="3.6"/>
<line x1="1780.8" y1="663.2" x2="1786.8" y2="663.2" stroke="#161616" stroke-width="3.6"/>
<text x="1818.7" y="680.3" text-anchor="start" font-size="55.8" >CV=0.17%</text>
<line x1="2772" y1="660.3" x2="2815" y2="660.3" stroke="#e8435d" stroke-width="4.5"/>
<circle cx="2792.8" cy="660.3" r="10.4" fill="url(#g_pink)"/>
<text x="2815" y="677.8" text-anchor="start" font-size="55.8" >Test2</text>
<polyline points="1829.5,911.2 1860.2,911.2 1890.8,904.4 1921.5,911.2 1952.1,911.2 1982.8,911.2 2013.4,904.4 2044.0,904.4 2074.7,911.2 2105.3,911.2 2136.0,911.2 2166.6,911.2 2197.3,911.2 2227.9,911.2 2258.6,911.2 2289.2,911.2 2319.8,911.2 2350.5,911.2 2381.1,911.2 2411.8,911.2 2442.4,911.2 2473.1,904.4 2503.7,911.2 2534.4,911.2 2565.0,911.2 2595.6,904.4 2626.3,904.4 2656.9,904.4 2687.6,911.2 2718.2,911.2 2748.9,911.2 2779.5,904.4 2810.2,904.4 2840.8,911.2 2871.5,911.2 2902.1,904.4" fill="none" stroke="#f59220" stroke-width="3.2"/>
<circle cx="1829.5" cy="911.2" r="10.4" fill="url(#g_orange)"/>
<circle cx="1860.2" cy="911.2" r="10.4" fill="url(#g_orange)"/>
<circle cx="1890.8" cy="904.4" r="10.4" fill="url(#g_orange)"/>
<circle cx="1921.5" cy="911.2" r="10.4" fill="url(#g_orange)"/>
<circle cx="1952.1" cy="911.2" r="10.4" fill="url(#g_orange)"/>
<circle cx="1982.8" cy="911.2" r="10.4" fill="url(#g_orange)"/>
<circle cx="2013.4" cy="904.4" r="10.4" fill="url(#g_orange)"/>
<circle cx="2044.0" cy="904.4" r="10.4" fill="url(#g_orange)"/>
<circle cx="2074.7" cy="911.2" r="10.4" fill="url(#g_orange)"/>
<circle cx="2105.3" cy="911.2" r="10.4" fill="url(#g_orange)"/>
<circle cx="2136.0" cy="911.2" r="10.4" fill="url(#g_orange)"/>
<circle cx="2166.6" cy="911.2" r="10.4" fill="url(#g_orange)"/>
<circle cx="2197.3" cy="911.2" r="10.4" fill="url(#g_orange)"/>
<circle cx="2227.9" cy="911.2" r="10.4" fill="url(#g_orange)"/>
<circle cx="2258.6" cy="911.2" r="10.4" fill="url(#g_orange)"/>
<circle cx="2289.2" cy="911.2" r="10.4" fill="url(#g_orange)"/>
<circle cx="2319.8" cy="911.2" r="10.4" fill="url(#g_orange)"/>
<circle cx="2350.5" cy="911.2" r="10.4" fill="url(#g_orange)"/>
<circle cx="2381.1" cy="911.2" r="10.4" fill="url(#g_orange)"/>
<circle cx="2411.8" cy="911.2" r="10.4" fill="url(#g_orange)"/>
<circle cx="2442.4" cy="911.2" r="10.4" fill="url(#g_orange)"/>
<circle cx="2473.1" cy="904.4" r="10.4" fill="url(#g_orange)"/>
<circle cx="2503.7" cy="911.2" r="10.4" fill="url(#g_orange)"/>
<circle cx="2534.4" cy="911.2" r="10.4" fill="url(#g_orange)"/>
<circle cx="2565.0" cy="911.2" r="10.4" fill="url(#g_orange)"/>
<circle cx="2595.6" cy="904.4" r="10.4" fill="url(#g_orange)"/>
<circle cx="2626.3" cy="904.4" r="10.4" fill="url(#g_orange)"/>
<circle cx="2656.9" cy="904.4" r="10.4" fill="url(#g_orange)"/>
<circle cx="2687.6" cy="911.2" r="10.4" fill="url(#g_orange)"/>
<circle cx="2718.2" cy="911.2" r="10.4" fill="url(#g_orange)"/>
<circle cx="2748.9" cy="911.2" r="10.4" fill="url(#g_orange)"/>
<circle cx="2779.5" cy="904.4" r="10.4" fill="url(#g_orange)"/>
<circle cx="2810.2" cy="904.4" r="10.4" fill="url(#g_orange)"/>
<circle cx="2840.8" cy="911.2" r="10.4" fill="url(#g_orange)"/>
<circle cx="2871.5" cy="911.2" r="10.4" fill="url(#g_orange)"/>
<circle cx="2902.1" cy="904.4" r="10.4" fill="url(#g_orange)"/>
<rect x="1774.3" y="826.4" width="3.0" height="142.4" fill="#e4e4e4"/>
<rect x="1777.3" y="826.4" width="3.0" height="142.4" fill="#121212"/>
<rect x="1780.3" y="831.4" width="2.0" height="132.7" fill="#9c9c9c"/>
<rect x="2951.2" y="831.4" width="1.9" height="132.7" fill="#8c8c8c"/>
<rect x="2953.1" y="826.4" width="2.5" height="142.4" fill="#121212"/>
<rect x="1777.3" y="964.1" width="1178.3" height="2.5" fill="#121212"/>
<rect x="1777.3" y="966.6" width="1178.3" height="2.2" fill="#8c8c8c"/>
<rect x="1777.3" y="826.4" width="1178.3" height="5.0" fill="#46464b"/>
<line x1="1880.6" y1="964.1" x2="1880.6" y2="954.3" stroke="#161616" stroke-width="3.6"/>
<text x="1879.4" y="1028.1" text-anchor="middle" font-size="55.8" >10</text>
<line x1="1982.8" y1="964.1" x2="1982.8" y2="958.6" stroke="#161616" stroke-width="3.6"/>
<line x1="2084.9" y1="964.1" x2="2084.9" y2="954.3" stroke="#161616" stroke-width="3.6"/>
<text x="2083.1" y="1028.1" text-anchor="middle" font-size="55.8" >20</text>
<line x1="2187.0" y1="964.1" x2="2187.0" y2="958.6" stroke="#161616" stroke-width="3.6"/>
<line x1="2289.2" y1="964.1" x2="2289.2" y2="954.3" stroke="#161616" stroke-width="3.6"/>
<text x="2287.4" y="1028.1" text-anchor="middle" font-size="55.8" >30</text>
<line x1="2391.3" y1="964.1" x2="2391.3" y2="958.6" stroke="#161616" stroke-width="3.6"/>
<line x1="2493.5" y1="964.1" x2="2493.5" y2="954.3" stroke="#161616" stroke-width="3.6"/>
<text x="2491.7" y="1028.1" text-anchor="middle" font-size="55.8" >40</text>
<line x1="2595.6" y1="964.1" x2="2595.6" y2="958.6" stroke="#161616" stroke-width="3.6"/>
<line x1="2697.8" y1="964.1" x2="2697.8" y2="954.3" stroke="#161616" stroke-width="3.6"/>
<text x="2696.0" y="1028.1" text-anchor="middle" font-size="55.8" >50</text>
<line x1="2799.9" y1="964.1" x2="2799.9" y2="958.6" stroke="#161616" stroke-width="3.6"/>
<line x1="2902.1" y1="964.1" x2="2902.1" y2="954.3" stroke="#161616" stroke-width="3.6"/>
<text x="2900.3" y="1028.1" text-anchor="middle" font-size="55.8" >60</text>
<text x="1760" y="845.7" text-anchor="end" font-size="55.8" >11</text>
<line x1="1780.8" y1="897.5" x2="1789.8" y2="897.5" stroke="#161616" stroke-width="3.6"/>
<text x="1760" y="913.8" text-anchor="end" font-size="55.8" >10</text>
<text x="1760" y="981.4" text-anchor="end" font-size="55.8" >9</text>
<line x1="1780.8" y1="931.8" x2="1786.8" y2="931.8" stroke="#161616" stroke-width="3.6"/>
<line x1="1780.8" y1="863.2" x2="1786.8" y2="863.2" stroke="#161616" stroke-width="3.6"/>
<text x="1818.7" y="875.7" text-anchor="start" font-size="55.8" >CV=0.46%</text>
<line x1="2772" y1="859.5" x2="2815" y2="859.5" stroke="#f59220" stroke-width="4.5"/>
<circle cx="2792.8" cy="859.5" r="10.4" fill="url(#g_orange)"/>
<text x="2815" y="877.0" text-anchor="start" font-size="55.8" >Test1</text>
<text x="2365" y="1091" text-anchor="middle" font-size="55.8" >Angle/(°)</text>
<text x="0" y="0" text-anchor="middle" font-size="55.8" transform="translate(1669,496) rotate(-90)">Power/μW</text>
<text x="1604" y="46.5" text-anchor="start" font-size="55.8" >(b)</text>
</svg></body></html>
